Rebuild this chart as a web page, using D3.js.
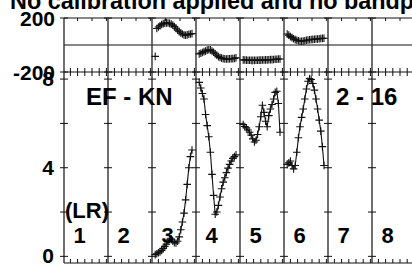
<!DOCTYPE html>
<html><head><meta charset="utf-8">
<script src="https://cdn.jsdelivr.net/npm/d3@7"></script>
<style>
html,body{margin:0;padding:0;background:#fff;overflow:hidden}
svg{display:block}
text{font-family:"Liberation Sans",Arial,sans-serif;font-weight:bold;fill:#000}
</style>
</head><body><svg id="c" width="412" height="266"></svg>
<script>
// ---- data ----
const titleText = "No calibration applied and no bandpass";
const baselineLabel = "EF - KN";
const timeLabel = "2 - 16";
const polLabel = "(LR)";
const ifLabels = ["1","2","3","4","5","6","7","8"];
const channels = d3.range(1, 25);
const chanTicks = [3, 7.5, 12, 16.5, 21, 25.5];
const phaseTickValues = [-200, 0, 200];
const phaseTickLabels = [200, -200];
const ampTickValues = [0, 2, 4, 6, 8];
const ampTickLabels = [0, 4, 8];

const ampIF3 = [0.08,0.12,0.16,0.2,0.27,0.36,0.45,0.55,0.68,0.77,0.78,0.68,0.62,0.6,0.68,0.88,1.2,1.55,1.95,2.55,3.25,4.0,4.5,4.8];
const ampIF4 = [7.85,7.6,7.35,7.1,6.4,5.9,5.4,4.7,3.7,2.75,1.9,2.0,2.3,2.68,3.05,3.35,3.55,3.78,3.98,4.15,4.3,4.42,4.5,4.58];
const ampIF5 = [5.95,5.86,5.8,5.7,5.6,5.47,5.3,5.16,5.24,5.5,5.85,6.3,6.82,6.5,6.1,5.85,6.35,6.65,6.85,7.1,7.4,7.45,6.9,5.6];
const ampIF6 = [4.15,4.22,4.3,4.1,3.95,4.1,4.7,5.35,5.85,6.27,6.65,7.1,7.55,7.9,8.02,7.98,7.8,7.5,7.1,6.65,6.15,5.65,4.95,4.1];

const phaseIF3 = [-84,122,133,143,152,158,162,164,163,160,155,147,137,124,110,98,89,81,75,72,75,80,82,84];
const phaseIF4 = [-66,-61,-55,-49,-45,-38,-35,-36,-44,-54,-65,-76,-86,-93,-97,-101,-103,-104,-103,-102,-101,-101,-99,-95];
const phaseIF5 = [-110,-111,-112,-113,-113,-114,-114,-114,-113,-113,-112,-112,-111,-111,-110,-110,-109,-108,-108,-107,-106,-105,-104,-104];
const phaseIF6 = [81,73,62,55,46,40,35,31,28,28,30,32,35,37,39,41,42,43,44,45,46,48,49,50];

const series = [
  {id:"3", amp:ampIF3, phase:phaseIF3},
  {id:"4", amp:ampIF4, phase:phaseIF4},
  {id:"5", amp:ampIF5, phase:phaseIF5},
  {id:"6", amp:ampIF6, phase:phaseIF6}
];

// ---- scales ----
const svg = d3.select("#c");
const W = 412, H = 266;
const panelX = d3.scaleBand().domain(ifLabels).range([64, 416]).paddingInner(0).paddingOuter(0);
const bw = panelX.bandwidth();
const chanX = d3.scaleLinear().domain([-1, 26.5]).range([0, bw]);
const yPh = d3.scaleLinear().domain([-200, 200]).range([72, 18]);
const yAmp = d3.scaleLinear().domain([-0.3, 8.32]).range([263, 72]);
const yTopFrame = yPh(200), yMidFrame = yPh(-200), yBotFrame = yAmp(-0.3);

const ink = "#111";
const g = svg.append("g");

// frame horizontal lines
[yTopFrame, yPh(0), yMidFrame, yBotFrame].forEach(y => {
  g.append("line").attr("x1", 64).attr("x2", W).attr("y1", y).attr("y2", y)
    .attr("stroke", ink).attr("stroke-width", 1.2);
});
// panel dividers
const edges = ifLabels.map(d => panelX(d)).concat([panelX(ifLabels[ifLabels.length-1]) + bw]);
edges.forEach(x => {
  g.append("line").attr("x1", x).attr("x2", x).attr("y1", yTopFrame).attr("y2", yBotFrame)
    .attr("stroke", "#333").attr("stroke-width", 1.4);
  ampTickValues.forEach(v => {
    g.append("line").attr("x1", x-4).attr("x2", x+4).attr("y1", yAmp(v)).attr("y2", yAmp(v))
      .attr("stroke", ink).attr("stroke-width", 1);
  });
  [200, -200].forEach(v => {
    g.append("line").attr("x1", x-4).attr("x2", x+4).attr("y1", yPh(v)).attr("y2", yPh(v))
      .attr("stroke", ink).attr("stroke-width", 1);
  });
});
// channel ticks
ifLabels.forEach(id => {
  const x0 = panelX(id);
  chanTicks.forEach((c, i) => {
    const x = x0 + chanX(c);
    if (i % 2 === 1) {
      g.append("line").attr("x1", x).attr("x2", x).attr("y1", yTopFrame).attr("y2", yTopFrame+3)
        .attr("stroke", ink).attr("stroke-width", 1);
    }
    g.append("line").attr("x1", x).attr("x2", x).attr("y1", yMidFrame-4).attr("y2", yMidFrame+4)
      .attr("stroke", ink).attr("stroke-width", 1);
    g.append("line").attr("x1", x).attr("x2", x).attr("y1", yBotFrame-4).attr("y2", yBotFrame)
      .attr("stroke", ink).attr("stroke-width", 1);
  });
});

// axis labels
phaseTickLabels.forEach(v => {
  g.append("text").attr("x", 55).attr("y", yPh(v) + 7.5).attr("text-anchor", "end")
    .attr("font-size", 21).text(v);
});
ampTickLabels.forEach(v => {
  g.append("text").attr("x", 54).attr("y", yAmp(v) + 7).attr("text-anchor", "end")
    .attr("font-size", 21).text(v);
});

// data
const cross = 3.8;
series.forEach(s => {
  const x0 = panelX(s.id);
  const px = i => x0 + chanX(channels[i]);
  const line = d3.line().x((d,i) => px(i)).y(d => yAmp(d));
  g.append("path").attr("d", line(s.amp)).attr("fill", "none").attr("stroke", ink).attr("stroke-width", 1.1);
  const segs = [];
  let cur = [];
  s.phase.forEach((v, i) => {
    if (cur.length && Math.abs(v - s.phase[i-1]) > 150) { segs.push(cur); cur = []; }
    cur.push([px(i), yPh(v)]);
  });
  segs.push(cur);
  segs.forEach(sg => {
    if (sg.length > 1) g.append("path").attr("d", d3.line()(sg)).attr("fill","none").attr("stroke", ink).attr("stroke-width", 1.1);
  });
  const drawCross = (x, y) => {
    g.append("path").attr("d", `M${x-cross},${y}H${x+cross}M${x},${y-cross}V${y+cross}`)
      .attr("stroke", ink).attr("stroke-width", 1.1).attr("fill", "none");
  };
  s.amp.forEach((v, i) => drawCross(px(i), yAmp(v)));
  s.phase.forEach((v, i) => drawCross(px(i), yPh(v)));
});

// text labels
g.append("text").attr("x", 10).attr("y", 9).attr("font-size", 23.4).text(titleText);
g.append("text").attr("x", 86).attr("y", 105).attr("font-size", 24).text(baselineLabel);
g.append("text").attr("x", 336).attr("y", 105).attr("font-size", 24).text(timeLabel);
g.append("text").attr("x", 65).attr("y", 218).attr("font-size", 22).text(polLabel);
ifLabels.forEach(id => {
  g.append("text").attr("x", panelX(id) + 15.5).attr("y", 243).attr("text-anchor", "middle")
    .attr("font-size", 22).text(id);
});
</script>
</body></html>
